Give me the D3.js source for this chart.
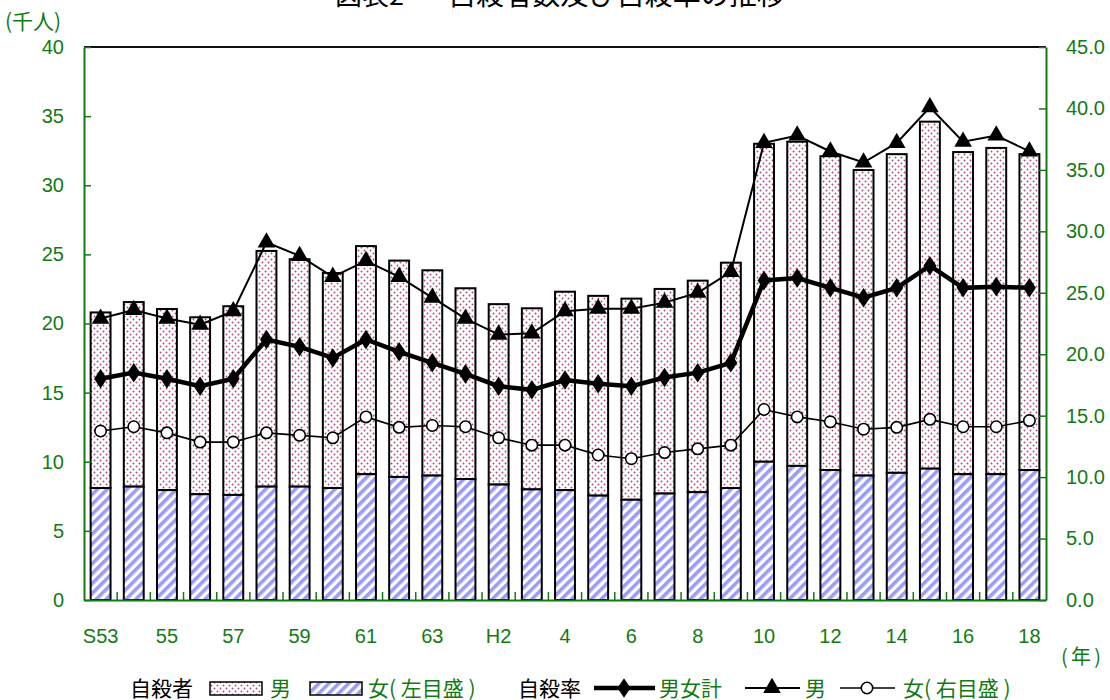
<!DOCTYPE html>
<html><head><meta charset="utf-8">
<script src="https://cdn.jsdelivr.net/npm/d3@7/dist/d3.min.js"></script>
<style>
body{margin:0;background:#fff;}
svg{display:block;font-family:"Liberation Sans","Noto Sans CJK JP",sans-serif;}
</style></head>
<body><svg id="c" width="1110" height="700"></svg>
<script>
const categories = ["S53","54","55","56","57","58","59","60","61","62","63","H1","H2","3","4","5","6","7","8","9","10","11","12","13","14","15","16","17","18"];
const femaleCount = [8.1,8.2,7.95,7.65,7.6,8.2,8.2,8.1,9.1,8.9,9.0,8.75,8.35,8.0,7.95,7.55,7.25,7.7,7.8,8.1,10.0,9.7,9.4,9.0,9.2,9.5,9.1,9.1,9.4];
const maleCount = [12.7,13.35,13.1,12.8,13.65,17.05,16.45,15.55,16.5,15.65,14.85,13.8,13.05,13.1,14.35,14.45,14.55,14.8,15.3,16.3,23.0,23.45,22.7,22.1,23.05,25.1,23.3,23.6,22.85];
const rateTotal = [18.0,18.5,18.0,17.4,18.0,21.2,20.6,19.7,21.2,20.2,19.3,18.4,17.4,17.1,17.9,17.6,17.4,18.1,18.5,19.3,26.0,26.2,25.4,24.6,25.4,27.2,25.4,25.5,25.4];
const rateMale = [22.9,23.6,22.9,22.4,23.5,29.1,28.0,26.3,27.6,26.3,24.6,22.9,21.6,21.7,23.5,23.7,23.7,24.2,25.0,26.7,37.2,37.8,36.5,35.6,37.2,40.1,37.3,37.8,36.5];
const rateFemale = [13.75,14.1,13.6,12.85,12.85,13.6,13.4,13.2,14.9,14.05,14.2,14.1,13.2,12.6,12.6,11.8,11.5,12.0,12.3,12.6,15.5,14.9,14.5,13.9,14.05,14.7,14.1,14.1,14.6];
const leftTicks = [0,5,10,15,20,25,30,35,40];
const rightTicks = [0,5,10,15,20,25,30,35,40,45];
const xLabelIdx = categories.map((c,i)=>i).filter(i=>i%2===0);

const GREEN = "#137a13";
const svg = d3.select("#c");
const L = 84, R = 1046, T = 47, B = 600;

const defs = svg.append("defs");
const dots = defs.append("pattern").attr("id","dots").attr("patternUnits","userSpaceOnUse")
  .attr("width",6).attr("height",6);
dots.append("rect").attr("width",6).attr("height",6).attr("fill","#fff");
dots.append("circle").attr("cx",1.5).attr("cy",1.5).attr("r",0.95).attr("fill","#b04a80");
dots.append("circle").attr("cx",4.5).attr("cy",4.5).attr("r",0.95).attr("fill","#b04a80");
const stripes = defs.append("pattern").attr("id","stripes").attr("patternUnits","userSpaceOnUse")
  .attr("width",7).attr("height",7).attr("patternTransform","rotate(45)");
stripes.append("rect").attr("width",7).attr("height",7).attr("fill","#fff");
stripes.append("rect").attr("width",3.6).attr("height",7).attr("fill","#9c9cf6");

const x = d3.scaleBand().domain(categories).range([L,R]).padding(0);
const yL = d3.scaleLinear().domain([0,40]).range([B,T]);
const yR = d3.scaleLinear().domain([0,45]).range([B,T]);
const bw = x.bandwidth()*0.6, boff = x.bandwidth()*0.2;

// bars
const g = svg.append("g");
categories.forEach((c,i)=>{
  const f = femaleCount[i], m = maleCount[i];
  g.append("rect").attr("x",x(c)+boff).attr("width",bw)
    .attr("y",yL(f+m)).attr("height",yL(f)-yL(f+m))
    .attr("fill","url(#dots)").attr("stroke","#000").attr("stroke-width",2);
  g.append("rect").attr("x",x(c)+boff).attr("width",bw)
    .attr("y",yL(f)).attr("height",yL(0)-yL(f))
    .attr("fill","url(#stripes)").attr("stroke","#000").attr("stroke-width",2);
});

// frame top
svg.append("line").attr("x1",L).attr("x2",R).attr("y1",T).attr("y2",T).attr("stroke","#111").attr("stroke-width",2);

// axes
const axL = svg.append("g").attr("transform",`translate(${L},0)`)
  .call(d3.axisLeft(yL).tickValues(leftTicks).tickFormat(d3.format("d")).tickSizeInner(-7).tickSizeOuter(0).tickPadding(20));
const axR = svg.append("g").attr("transform",`translate(${R},0)`)
  .call(d3.axisRight(yR).tickValues(rightTicks).tickFormat(d3.format(".1f")).tickSizeInner(-7).tickSizeOuter(0).tickPadding(20));
const axB = svg.append("g").attr("transform",`translate(0,${B})`)
  .call(d3.axisBottom(x).tickValues(xLabelIdx.map(i=>categories[i])).tickSize(0).tickPadding(29));
[axL,axR,axB].forEach(a=>{
  a.selectAll("path.domain").attr("stroke",GREEN).attr("stroke-width",2);
  a.selectAll(".tick line").attr("stroke",GREEN).attr("stroke-width",1.5);
  a.selectAll(".tick text").attr("fill",GREEN).attr("font-size",20).attr("font-family","Liberation Sans");
});
axB.selectAll(".tick text").attr("dy",null).attr("y",43);
// boundary ticks on x axis
categories.slice(1).forEach(c=>{
  svg.append("line").attr("x1",x(c)).attr("x2",x(c)).attr("y1",B).attr("y2",B-8)
    .attr("stroke",GREEN).attr("stroke-width",1.5);
});

// lines
const cx = i => x(categories[i]) + x.bandwidth()/2;
const mkLine = d3.line().x((d,i)=>cx(i)).y(d=>yR(d));
svg.append("path").datum(rateFemale).attr("d",mkLine).attr("fill","none").attr("stroke","#000").attr("stroke-width",1.6);
svg.append("path").datum(rateMale).attr("d",mkLine).attr("fill","none").attr("stroke","#000").attr("stroke-width",2);
svg.append("path").datum(rateTotal).attr("d",mkLine).attr("fill","none").attr("stroke","#000").attr("stroke-width",4.5);

const tri = d3.symbol().type(d3.symbolTriangle).size(135);
const dia = d3.symbol().type(d3.symbolDiamond).size(110);
rateFemale.forEach((v,i)=>{
  svg.append("circle").attr("cx",cx(i)).attr("cy",yR(v)).attr("r",5.7)
    .attr("fill","#fff").attr("stroke","#000").attr("stroke-width",1.6);
});
rateMale.forEach((v,i)=>{
  svg.append("path").attr("d",tri).attr("transform",`translate(${cx(i)},${yR(v)})`).attr("fill","#000");
});
rateTotal.forEach((v,i)=>{
  svg.append("path").attr("d",dia).attr("transform",`translate(${cx(i)},${yR(v)}) scale(1.15,1)`).attr("fill","#000");
});

// titles
svg.append("text").attr("x",335).attr("y",5).attr("font-size",27).attr("font-family","Noto Sans CJK JP").attr("fill","#000").text("図表2");
svg.append("text").attr("x",448).attr("y",5).attr("font-size",27).attr("font-family","Noto Sans CJK JP").attr("fill","#000")
  .attr("textLength",337).attr("lengthAdjust","spacingAndGlyphs").text("自殺者数及び自殺率の推移");
svg.append("text").attr("x",5).attr("y",29).attr("font-size",21).attr("font-family","Noto Sans CJK JP").attr("fill",GREEN).text("(千人)");
svg.append("text").attr("x",1061).attr("y",664).attr("font-size",20).attr("font-family","Noto Sans CJK JP").attr("fill",GREEN)
  .attr("textLength",40).attr("lengthAdjust","spacing").text("(年)");

// legend
const ly = 688;
const lg = svg.append("g").attr("font-family","Noto Sans CJK JP").attr("font-size",21);
const lt = (xx,t,col)=>lg.append("text").attr("x",xx).attr("y",ly+7.5).attr("fill",col).text(t);
lt(130,"自殺者","#000");
lg.append("rect").attr("x",210).attr("y",ly-6).attr("width",52).attr("height",13).attr("fill","url(#dots)").attr("stroke","#000").attr("stroke-width",1.5);
lt(270,"男",GREEN);
lg.append("rect").attr("x",310).attr("y",ly-6).attr("width",52).attr("height",13).attr("fill","url(#stripes)").attr("stroke","#000").attr("stroke-width",1.5);
lt(368,"女( 左目盛 )",GREEN);
lt(518,"自殺率","#000");
lg.append("line").attr("x1",594).attr("x2",655).attr("y1",ly).attr("y2",ly).attr("stroke","#000").attr("stroke-width",4.5);
lg.append("path").attr("d",dia).attr("transform",`translate(624,${ly}) scale(1.15,1)`).attr("fill","#000");
lt(659,"男女計",GREEN);
lg.append("line").attr("x1",745).attr("x2",800).attr("y1",ly).attr("y2",ly).attr("stroke","#000").attr("stroke-width",2);
lg.append("path").attr("d",tri).attr("transform",`translate(772,${ly})`).attr("fill","#000");
lt(805,"男",GREEN);
lg.append("line").attr("x1",840).attr("x2",895).attr("y1",ly).attr("y2",ly).attr("stroke","#000").attr("stroke-width",1.6);
lg.append("circle").attr("cx",867).attr("cy",ly).attr("r",5.7).attr("fill","#fff").attr("stroke","#000").attr("stroke-width",1.6);
lt(903,"女( 右目盛 )",GREEN);
</script></body></html>
